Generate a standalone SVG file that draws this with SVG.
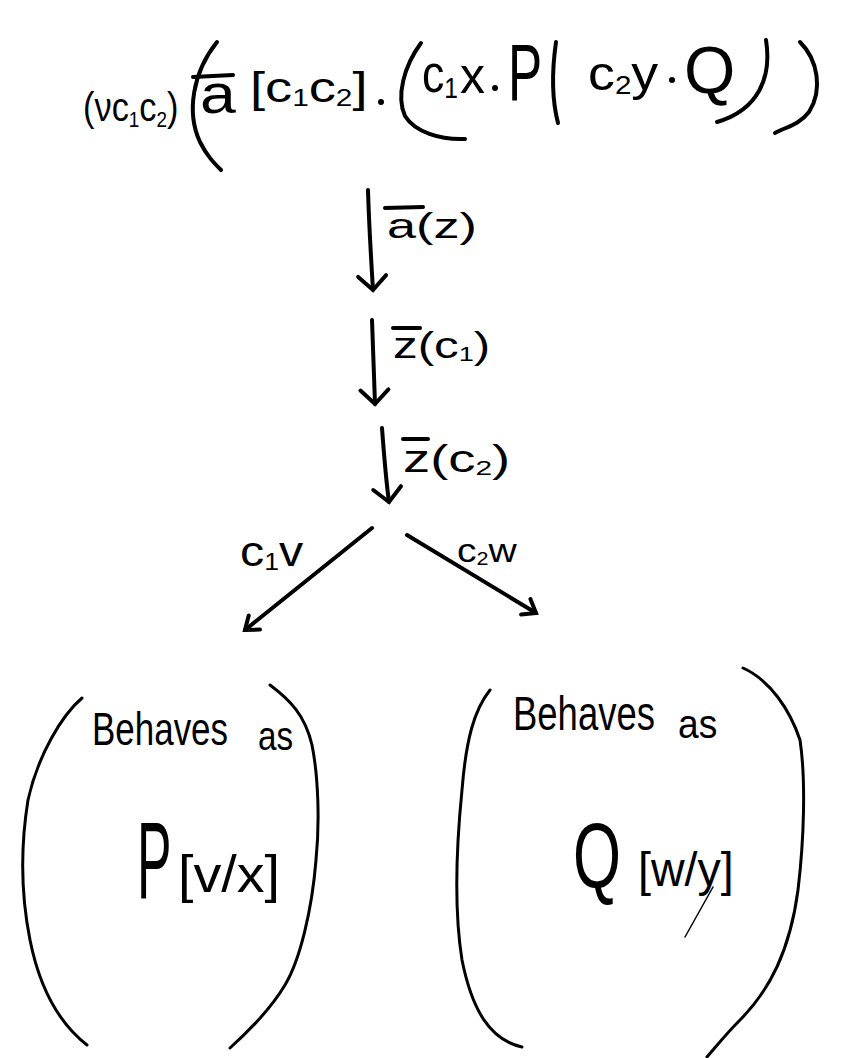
<svg xmlns="http://www.w3.org/2000/svg" width="841" height="1058" viewBox="0 0 841 1058">
  <style>
    .t { font-family: "Liberation Sans", "DejaVu Sans", sans-serif; fill: #000; }
    .sub { font-size: 0.55em; }
    .ink { fill: none; stroke: #000; stroke-width: 4; stroke-linecap: round; stroke-linejoin: round; }
    .thin { fill: none; stroke: #000; stroke-width: 3; stroke-linecap: round; stroke-linejoin: round; }
    .dot { fill: #000; }
  </style>
  <defs>
    <marker id="head" markerUnits="userSpaceOnUse" markerWidth="40" markerHeight="40" refX="0" refY="0" viewBox="-20 -20 40 40" orient="auto">
      <path d="M-14,-14 Q-2,-2 0,0 Q-2,2 -14,14" fill="none" stroke="#000" stroke-width="4" stroke-linecap="round"/>
    </marker>
    <marker id="headS" markerUnits="userSpaceOnUse" markerWidth="40" markerHeight="40" refX="0" refY="0" viewBox="-20 -20 40 40" orient="auto">
      <path d="M-12,-9 L0,0 L-12,9" fill="none" stroke="#000" stroke-width="4" stroke-linecap="round"/>
    </marker>
  </defs>
  <rect width="841" height="1058" fill="#fff"/>

  <!-- initial process term: (νc1c2)(ā[c1c2].(c1x.P | c2y.Q)) -->
  <g id="node-start">
    <text class="t" transform="translate(83,121) scale(0.86,1)" font-size="40">(νc<tspan class="sub" dy="6">1</tspan><tspan dy="-6">c</tspan><tspan class="sub" dy="6">2</tspan><tspan dy="-6">)</tspan></text>
    <path class="ink" d="M217,42 C193,72 186,112 200,142 C207,156 214,163 221,170"/>
    <line class="ink" x1="193" y1="77" x2="233" y2="75"/>
    <text class="t" transform="translate(200,113) scale(1.15,1)" font-size="56">a</text>
    <text class="t" transform="translate(250,102) scale(1.29,1)" font-size="42">[c<tspan class="sub" dy="4">1</tspan><tspan dy="-4">c</tspan><tspan class="sub" dy="4">2</tspan><tspan dy="-4">]</tspan></text>
    <circle class="dot" cx="381" cy="102" r="3"/>
    <path class="ink" d="M421,43 C404,66 396,96 405,116 C415,132 440,140 465,139"/>
    <text class="t" transform="translate(422,92) scale(0.86,1)" font-size="52">c<tspan class="sub" dy="6">1</tspan></text>
    <text class="t" transform="translate(460,93)" font-size="50">x</text>
    <circle class="dot" cx="495" cy="88" r="3"/>
    <text class="t" transform="translate(508,100) scale(0.64,1)" font-size="80">P</text>
    <path class="ink" d="M556,42 C552,70 552,100 558,123"/>
    <text class="t" transform="translate(588,90) scale(1.12,1)" font-size="48">c<tspan class="sub" dy="4">2</tspan><tspan dy="-4">y</tspan></text>
    <circle class="dot" cx="672" cy="80" r="3"/>
    <text class="t" transform="translate(684,93)" font-size="66">Q</text>
    <path class="ink" d="M766,40 C772,78 758,110 717,122"/>
    <path class="ink" d="M800,42 C818,60 823,90 809,112 C799,125 786,127 775,133"/>
  </g>

  <!-- left branch: behaves as P[v/x] -->
  <g id="node-left">
    <path class="thin" d="M82,698 C62,715 38,755 28,800 C20,850 22,900 30,940 C38,980 55,1020 87,1045"/>
    <path class="thin" d="M270,685 C290,700 305,715 312,745 C318,775 320,820 316,860 C312,910 300,960 285,985 C270,1010 250,1030 230,1048"/>
    <text class="t" transform="translate(92,745) scale(0.76,1)" font-size="46">Behaves</text>
    <text class="t" transform="translate(258,750) scale(0.83,1)" font-size="40">as</text>
    <text class="t" transform="translate(137,898) scale(0.47,1)" font-size="110">P</text>
    <text class="t" transform="translate(178,892) scale(1.07,1)" font-size="52">[v/x]</text>
  </g>

  <!-- right branch: behaves as Q[w/y] -->
  <g id="node-right">
    <path class="thin" d="M490,690 C474,710 466,740 462,790 C456,850 454,910 462,960 C472,1010 490,1040 522,1047"/>
    <path class="thin" d="M743,668 C770,680 790,710 800,740 C806,780 804,840 798,890 C790,950 770,990 740,1020 C725,1035 715,1048 707,1057"/>
    <text class="t" transform="translate(513,730) scale(0.76,1)" font-size="48">Behaves</text>
    <text class="t" transform="translate(678,738) scale(0.93,1)" font-size="40">as</text>
    <text class="t" transform="translate(573,887) scale(0.67,1)" font-size="92">Q</text>
    <text class="t" transform="translate(638,886) scale(0.97,1)" font-size="48">[w/y]</text>
    <line x1="713" y1="887" x2="685" y2="937" stroke="#000" stroke-width="1.5" stroke-linecap="round"/>
  </g>

  <!-- transitions -->
  <g id="connectors">
    <path class="ink" d="M368,190 C369,225 371,258 373,290" marker-end="url(#head)"/>
    <line class="ink" x1="385" y1="208" x2="423" y2="207"/>
    <text class="t" transform="translate(387,238) scale(1.45,1)" font-size="36">a(z)</text>

    <path class="ink" d="M372,320 C373,350 374,380 375,404" marker-end="url(#head)"/>
    <line class="ink" x1="393" y1="328" x2="420" y2="328"/>
    <text class="t" transform="translate(393,358) scale(1.37,1)" font-size="36">z(c<tspan class="sub" dy="3">1</tspan><tspan dy="-3">)</tspan></text>

    <path class="ink" d="M382,428 C384,455 386,480 389,502" marker-end="url(#head)"/>
    <line class="ink" x1="403" y1="439" x2="428" y2="439"/>
    <text class="t" transform="translate(403,472) scale(1.43,1)" font-size="38">z(c<tspan class="sub" dy="3">2</tspan><tspan dy="-3">)</tspan></text>

    <path class="ink" d="M372,528 L245,630" marker-end="url(#headS)"/>
    <text class="t" transform="translate(240,566) scale(1.15,1)" font-size="42">c<tspan class="sub" dy="4">1</tspan><tspan dy="-4">v</tspan></text>

    <path class="ink" d="M407,535 L536,613" marker-end="url(#headS)"/>
    <text class="t" transform="translate(457,562) scale(1.15,1)" font-size="34">c<tspan class="sub" dy="3">2</tspan><tspan dy="-3">w</tspan></text>
  </g>
</svg>
